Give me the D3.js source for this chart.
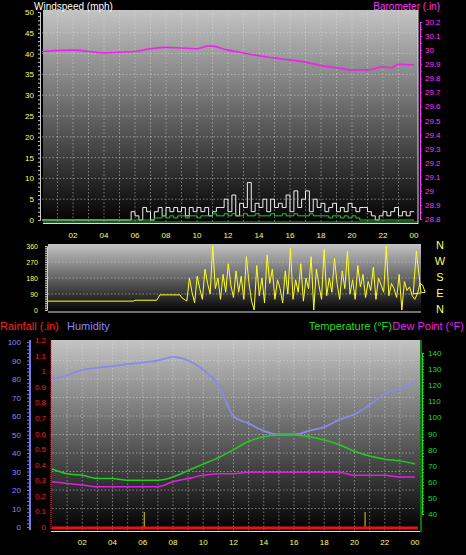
<!DOCTYPE html><html><head><meta charset="utf-8">
<script src="https://cdn.jsdelivr.net/npm/d3@7"></script>
<style>body{margin:0;background:#000}svg{display:block;font-family:"Liberation Sans",Arial,sans-serif}</style></head><body>
<svg id="c" width="466" height="555"></svg>
<script>
const hourTicks=["02","04","06","08","10","12","14","16","18","20","22","00"];
const baroH=[0,2,4,5,6,7,8,9,10,10.8,12,13,14,15,16,17,18,19,20,21,22,22.5,23,24];
const baroV=[29.99,30.0,29.98,29.985,29.99,30.01,30.02,30.015,30.01,30.03,30.0,29.98,29.96,29.945,29.93,29.915,29.89,29.875,29.86,29.86,29.88,29.875,29.9,29.895];
const gustStart=5.75, gustStep=0.25;
const gust=[2,1,0,3,2,0,2,3,1,3,2,3,2,3,1,3,2,3,2,3,1,2,3,3,5,2,6,1,4,3,9,2,4,3,5,2,5,3,4,3,6,2,7,3,5,7,2,5,3,4,2,3,4,2,3,2,4,3,2,3,3,2,1,0,1,2,1,2,3,1,2,1,2,2];
const avgW=[0,0,0,0,0,0,0.5,0.5,1,0.5,1,0.5,1,1,0.5,1,1,0.5,1,1,1,1.5,1,1,1.5,1,1.5,1,1,1.5,1,1,1.5,1,1,1,1.5,1,1,1.5,1,1,1.5,1,1,1,1.5,1,1,1,1,0.5,1,1,0.5,1,0.5,1,0.5,0,0,0,0,0,0,0,0,0,0,0,0,0,0,0];
const dirH0=[0,5.5,5.6,7.0,7.2,8.5];
const dirV0=[50,50,55,55,85,85];
const dirStart=8.6, dirStep=1/6;
const dirV=[70,60,50,180,100,40,190,120,60,230,150,90,360,120,180,60,200,100,260,140,70,220,100,190,60,300,150,50,0,250,80,180,40,310,150,230,60,170,120,40,220,90,350,60,170,100,260,50,180,120,300,0,230,140,60,340,80,180,100,290,150,60,220,120,330,90,170,60,250,130,200,70,160,110,240,60,180,140,100,360,80,150,120,70,200,0,160,110,130,80,60,90,150,140,100];
const dirH1=[23.5,23.7,24];
const dirV1=[90,330,100];
const hh=[0,1,2,3,4,5,6,7,8,9,10,11,12,13,14,15,16,17,18,19,20,21,22,23,24];
const hum=[80,82,85,86,87,88,89,90,92,90,85,77,60,56,52,50,50,52,54,58,61,66,72,75,78];
const temp=[68,65,64,62,62,61,61,61,63,67,71,75,80,85,88,89,89,88,86,83,79,76,74,73,71];
const dew=[60,59,58,57,57,57,57,57,60,62,64,65,65,66,66,66,66,66,66,66,64,64,64,63,63];
const rainMarks=[6.1,20.7];

const svg=d3.select("#c");
const defs=svg.append("defs");
const g=defs.append("linearGradient").attr("id","bg").attr("x1",0).attr("y1",0).attr("x2",0).attr("y2",1);
g.append("stop").attr("offset","0%").attr("stop-color","#c4c4c4");
g.append("stop").attr("offset","100%").attr("stop-color","#000");
const tc="#ffff66";
function grid(sel,x,y0,y1,yv,ys){ // vertical hourly, horizontal
  for(let h=1;h<24;h++) sel.append("line").attr("x1",x(h)).attr("x2",x(h)).attr("y1",y0).attr("y2",y1).attr("stroke","#ddd").attr("stroke-opacity",0.5).attr("stroke-dasharray","1.5,2");
  yv.forEach(v=>sel.append("line").attr("x1",x.range()[0]).attr("x2",x.range()[1]).attr("y1",ys(v)).attr("y2",ys(v)).attr("stroke","#ddd").attr("stroke-opacity",0.5).attr("stroke-dasharray","1.5,2"));
}
function txt(x,y,t,c,a,s){return svg.append("text").attr("x",x).attr("y",y).text(t).attr("fill",c).attr("text-anchor",a||"start").attr("font-size",s||9);}

// ---------- top panel
const x1=d3.scaleLinear().domain([0,24]).range([42,414]);
const yW=d3.scaleLinear().domain([0,50]).range([220,12]);
const yB=d3.scaleLinear().domain([28.8,30.2]).range([219,22]);
svg.append("rect").attr("x",43).attr("y",10).attr("width",375).attr("height",214).attr("fill","url(#bg)");
grid(svg,x1,10,224,d3.range(5,50,5),yW);
svg.append("line").attr("x1",43).attr("x2",418).attr("y1",223.5).attr("y2",223.5).attr("stroke","#ddd");
svg.append("line").attr("x1",418).attr("x2",418).attr("y1",10).attr("y2",224).attr("stroke","#ddd");
d3.range(0,51,5).forEach(v=>txt(34,yW(v)+3,v,tc,"end",8));
const axL=svg.append("g").attr("transform","translate(40,0)").call(d3.axisLeft(yW).ticks(50).tickSize(2).tickFormat(""));
axL.selectAll("line,path").attr("stroke","#ccc");
d3.range(28.8,30.21,0.1).forEach(v=>txt(425,yB(v)+3,(+v.toFixed(1))+"","#ff33ff","start",8));
const axR=svg.append("g").attr("transform","translate(420,0)").call(d3.axisRight(yB).ticks(28).tickSize(2).tickFormat(""));
axR.selectAll("line,path").attr("stroke","#ff33ff");
hourTicks.forEach((t,i)=>txt(x1(2*(i+1)),238,t,tc,"middle",8));
txt(34,10,"Windspeed (mph)","#fff","start",10);
txt(440,10,"Barometer (.in)","#ff33ff","end",10);
const gx=gust.map((v,i)=>gustStart+i*gustStep);
const gustPts=[[0,0],[gustStart-0.01,0]].concat(gust.map((v,i)=>[gx[i],v]));
svg.append("path").attr("d",d3.line().x(d=>x1(d[0])).y(d=>yW(d[1])).curve(d3.curveStepAfter)(gustPts)).attr("fill","none").attr("stroke","#eee").attr("stroke-width",1);
const avgPts=[[0,0]].concat(avgW.map((v,i)=>[gx[i],v]),[[24,0]]);
svg.append("path").attr("d",d3.line().x(d=>x1(d[0])).y(d=>yW(d[1])).curve(d3.curveStepAfter)(avgPts)).attr("fill","none").attr("stroke","#22cc22").attr("stroke-width",1);
svg.append("line").attr("x1",43).attr("x2",418).attr("y1",222).attr("y2",222).attr("stroke","#9f9").attr("stroke-opacity",0.6);
svg.append("path").datum(baroH.map((h,i)=>[h,baroV[i]])).attr("d",d3.line().x(d=>x1(d[0])).y(d=>yB(d[1])).curve(d3.curveMonotoneX)).attr("fill","none").attr("stroke","#ee22ee").attr("stroke-width",1.6);

// ---------- direction panel
const x2=d3.scaleLinear().domain([0,24]).range([48,421]);
const yD=d3.scaleLinear().domain([0,360]).range([310,246]);
svg.append("rect").attr("x",48).attr("y",244).attr("width",373).attr("height",69).attr("fill","url(#bg)");
[90,180,270].forEach(v=>svg.append("line").attr("x1",48).attr("x2",421).attr("y1",yD(v)).attr("y2",yD(v)).attr("stroke","#ddd").attr("stroke-opacity",0.5).attr("stroke-dasharray","1.5,2"));
svg.append("line").attr("x1",48).attr("x2",421).attr("y1",312).attr("y2",312).attr("stroke","#ddd");
[0,90,180,270,360].forEach(v=>txt(38,yD(v)+3,v,tc,"end",7));
svg.append("g").attr("transform","translate(47,0)").call(d3.axisLeft(yD).ticks(36).tickSize(2).tickFormat("")).selectAll("line,path").attr("stroke","#ccc");
["N","W","S","E","N"].forEach((t,i)=>txt(440,249+i*16,t,tc,"middle",11));
const dirPts=dirH0.map((h,i)=>[h,dirV0[i]]).concat(dirV.map((v,i)=>[dirStart+i*dirStep,v]),dirH1.map((h,i)=>[h,dirV1[i]]));
svg.append("path").attr("d",d3.line().x(d=>x2(d[0])).y(d=>yD(d[1]))(dirPts)).attr("fill","none").attr("stroke","#ffff22").attr("stroke-width",1);

// ---------- bottom panel
txt(0,330,"Rainfall (.in)","#ff2222","start",11);
txt(67,330,"Humidity","#8888ff","start",11);
txt(392,330,"Temperature (°F)","#22dd22","end",11);
txt(464,330,"Dew Point (°F)","#ee22ee","end",11);
const x3=d3.scaleLinear().domain([0,24]).range([52,415]);
const yH=d3.scaleLinear().domain([0,100]).range([527,342]);
const yR=d3.scaleLinear().domain([0,1.2]).range([527,340]);
const yT=d3.scaleLinear().domain([40,140]).range([514,353]);
svg.append("rect").attr("x",51).attr("y",340).attr("width",369).attr("height",192).attr("fill","url(#bg)");
grid(svg,x3,340,532,d3.range(10,100,10),yH);
svg.append("line").attr("x1",51).attr("x2",420).attr("y1",531.5).attr("y2",531.5).attr("stroke","#ddd");
svg.append("line").attr("x1",421).attr("x2",421).attr("y1",340).attr("y2",532).attr("stroke","#22dd22");
svg.append("line").attr("x1",30).attr("x2",30).attr("y1",340).attr("y2",530).attr("stroke","#7777ee").attr("stroke-width",2);
svg.append("g").attr("transform","translate(29,0)").call(d3.axisLeft(yH).ticks(50).tickSize(2).tickFormat("")).selectAll("line,path").attr("stroke","#7777ee");
d3.range(0,101,10).forEach(v=>txt(21,yH(v)+3,v,"#8888ff","end",8));
svg.append("line").attr("x1",51).attr("x2",51).attr("y1",340).attr("y2",530).attr("stroke","#ff3333").attr("stroke-dasharray","1,1");
d3.range(0,1.21,0.1).forEach(v=>txt(46,yR(v)+3,(+v.toFixed(1))+"","#ee2222","end",8));
svg.append("g").attr("transform","translate(422,0)").call(d3.axisRight(yT).ticks(50).tickSize(2).tickFormat("")).selectAll("line,path").attr("stroke","#22dd22");
d3.range(40,141,10).forEach(v=>txt(428,yT(v)+3,v,"#22dd22","start",8));
hourTicks.forEach((t,i)=>txt(x3(2*(i+1)),545,t,tc,"middle",8));
rainMarks.forEach(h=>svg.append("line").attr("x1",x3(h)).attr("x2",x3(h)).attr("y1",512).attr("y2",529).attr("stroke","#ddcc22"));
svg.append("line").attr("x1",52).attr("x2",418).attr("y1",yR(0)+1).attr("y2",yR(0)+1).attr("stroke","#ee1111").attr("stroke-width",3);
const ln=(ys)=>d3.line().x((d,i)=>x3(hh[i])).y(d=>ys(d)).curve(d3.curveMonotoneX);
svg.append("path").attr("d",ln(yH)(hum)).attr("fill","none").attr("stroke","#8888ee").attr("stroke-width",1.8);
svg.append("path").attr("d",ln(yT)(temp)).attr("fill","none").attr("stroke","#22cc22").attr("stroke-width",1.5);
svg.append("path").attr("d",ln(yT)(dew)).attr("fill","none").attr("stroke","#dd22dd").attr("stroke-width",1.5);
</script></body></html>
